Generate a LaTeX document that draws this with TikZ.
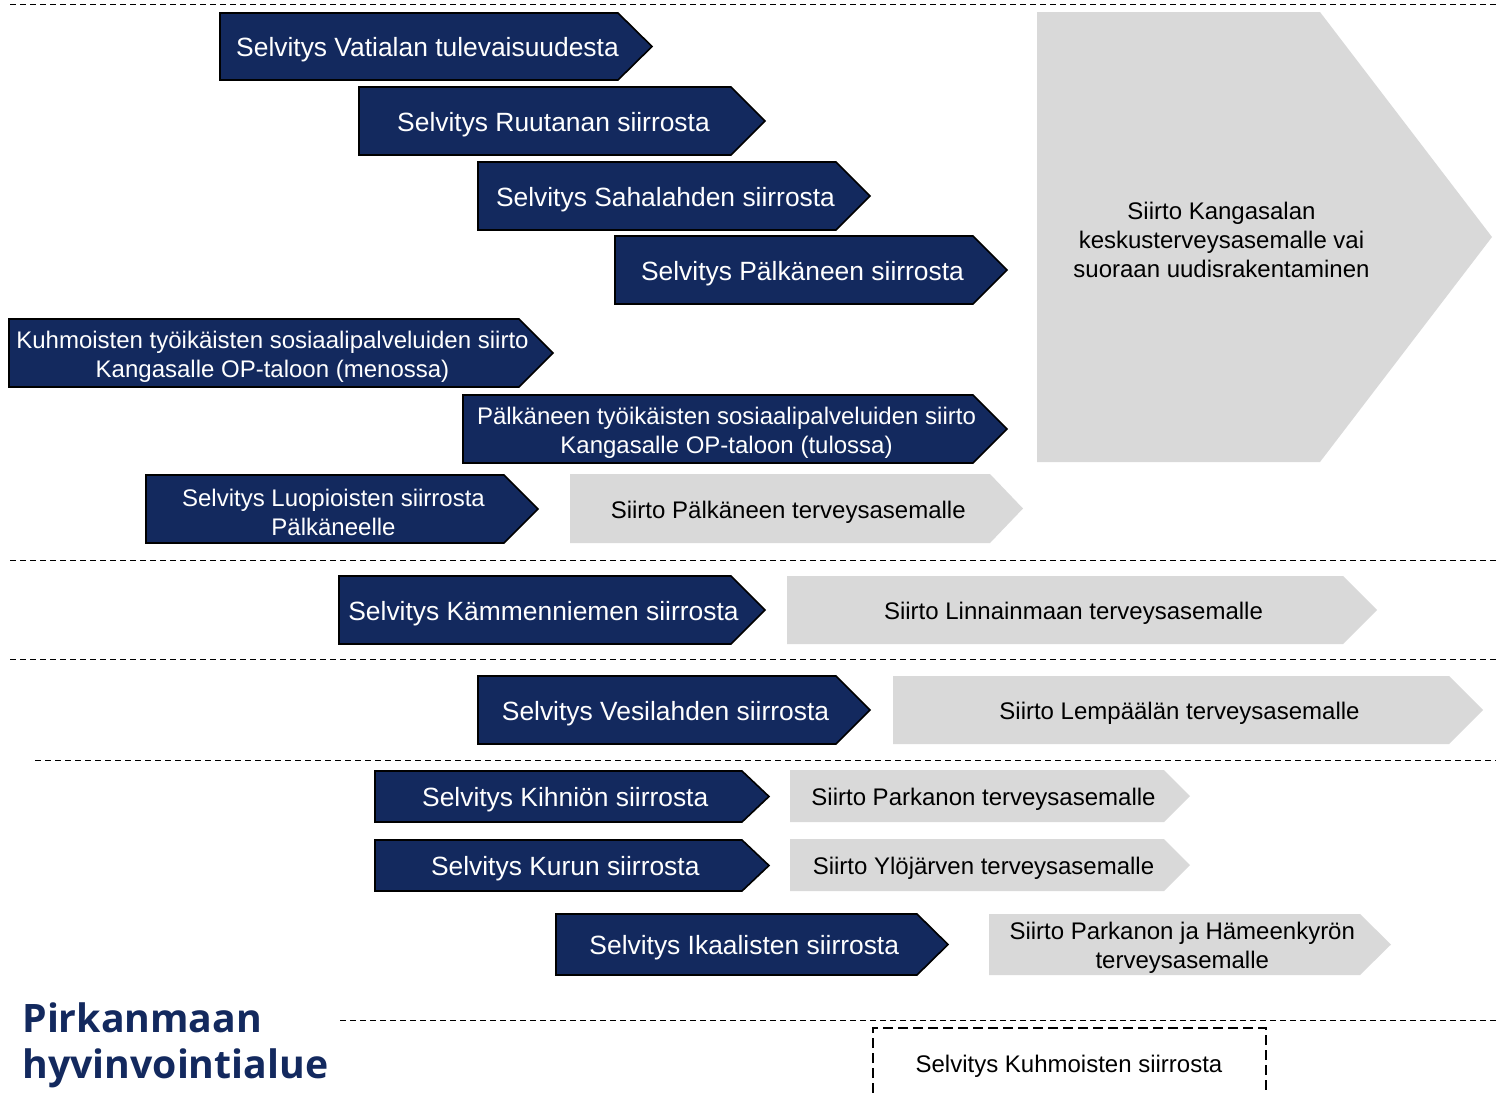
\documentclass[tikz,border=0pt]{standalone}
\usepackage{fontspec}
\setmainfont{Liberation Sans}
\newfontfamily\logofont{Open Sans}
\usepackage{tikz}
\usetikzlibrary{positioning}

\definecolor{hvnavy}{HTML}{13295E}
\definecolor{hvgrey}{HTML}{D9D9D9}

\tikzset{
  navy/.style={fill=hvnavy, draw=black, line width=0.8pt},
  navy text/.style={text=white, align=center, yshift=-1.7pt, font=\fontsize{13.2}{15.8}\selectfont},
  navy small text/.style={text=white, align=center, yshift=-1.7pt, font=\fontsize{12}{14.5}\selectfont},
  grey/.style={fill=hvgrey},
  grey text/.style={text=black, align=center, yshift=-1.7pt, font=\fontsize{12}{14.5}\selectfont},
  divider/.style={black, line width=0.5pt, dash pattern=on 3pt off 2pt},
}

% #1 shape style, #2 text style, #3 name, #4 left, #5 top, #6 tip x, #7 bottom, #8 tip depth, #9 text
\newcommand{\arrowbox}[9]{%
  \path[#1] (#4,#5) -- ({#6-#8},#5) -- (#6,{(#5+#7)/2}) -- ({#6-#8},#7) -- (#4,#7) -- cycle;
  \node[#2] (#3) at ({(#4+#6-#8/2)/2},{(#5+#7)/2}) {#9};
}

\begin{document}
\begin{tikzpicture}[x=0.5pt, y=-0.5pt]
  \useasboundingbox (0,0) rectangle (1496,1093);

  % dividers
  \draw[divider] (10,4) -- (1496,4);
  \draw[divider] (10,560) -- (1496,560);
  \draw[divider] (10,659) -- (1496,659);
  \draw[divider] (35,760) -- (1496,760);
  \draw[divider] (340,1020) -- (1496,1020);

  % Kangasala
  \arrowbox{grey}{grey text}{kangasala}{1037}{12}{1492}{462}{172}{Siirto Kangasalan\\keskusterveysasemalle vai\\suoraan uudisrakentaminen}
  \arrowbox{navy}{navy text}{vatiala}{220}{13}{652}{80}{34}{Selvitys Vatialan tulevaisuudesta}
  \arrowbox{navy}{navy text}{ruutana}{359}{87}{765}{155}{34}{Selvitys Ruutanan siirrosta}
  \arrowbox{navy}{navy text}{sahalahti}{478}{162}{870}{230}{34}{Selvitys Sahalahden siirrosta}
  \arrowbox{navy}{navy text}{palkane}{615}{236}{1007}{304}{34}{Selvitys Pälkäneen siirrosta}
  \arrowbox{navy}{navy small text}{kuhmoinenop}{9}{319}{553}{387}{34}{Kuhmoisten työikäisten sosiaalipalveluiden siirto\\Kangasalle OP-taloon (menossa)}
  \arrowbox{navy}{navy small text}{palkaneop}{463}{395}{1007}{463}{34}{Pälkäneen työikäisten sosiaalipalveluiden siirto\\Kangasalle OP-taloon (tulossa)}
  \arrowbox{navy}{navy small text}{luopioinen}{146}{475}{538}{543}{34}{Selvitys Luopioisten siirrosta\\Pälkäneelle}
  \arrowbox{grey}{grey text}{palkanets}{570}{474}{1023}{543}{33}{Siirto Pälkäneen terveysasemalle}

  % Tampere
  \arrowbox{navy}{navy text}{kammenniemi}{339}{576}{765}{644}{34}{Selvitys Kämmenniemen siirrosta}
  \arrowbox{grey}{grey text}{linnainmaa}{787}{576}{1377}{644}{34}{Siirto Linnainmaan terveysasemalle}

  % Lempäälä
  \arrowbox{navy}{navy text}{vesilahti}{478}{676}{870}{744}{34}{Selvitys Vesilahden siirrosta}
  \arrowbox{grey}{grey text}{lempaala}{893}{676}{1483}{744}{34}{Siirto Lempäälän terveysasemalle}

  % Parkano, Ylöjärvi
  \arrowbox{navy}{navy text}{kihnio}{375}{771}{769}{822}{27}{Selvitys Kihniön siirrosta}
  \arrowbox{grey}{grey text}{parkano}{790}{770}{1190}{822}{26}{Siirto Parkanon terveysasemalle}
  \arrowbox{navy}{navy text}{kuru}{375}{840}{769}{891}{27}{Selvitys Kurun siirrosta}
  \arrowbox{grey}{grey text}{ylojarvi}{790}{839}{1190}{891}{26}{Siirto Ylöjärven terveysasemalle}
  \arrowbox{navy}{navy text}{ikaalinen}{556}{914}{948}{975}{31}{Selvitys Ikaalisten siirrosta}
  \arrowbox{grey}{grey text}{hameenkyro}{989}{914}{1391}{975}{31}{Siirto Parkanon ja Hämeenkyrön\\terveysasemalle}

  % Kuhmoinen
  \draw[black, line width=1pt, dash pattern=on 5pt off 2.5pt] (873,1093) |- (1266,1028) -- (1266,1093);
  \node[grey text] (kuhmoinen) at (1069,1063) {Selvitys Kuhmoisten siirrosta};

  % logo
  \node[anchor=north west, align=left, text=hvnavy, inner sep=0pt,
        font=\logofont\bfseries\fontsize{19.6}{23}\selectfont] (logo) at (22,1002) {Pirkanmaan\\hyvinvointialue};
\end{tikzpicture}
\end{document}
